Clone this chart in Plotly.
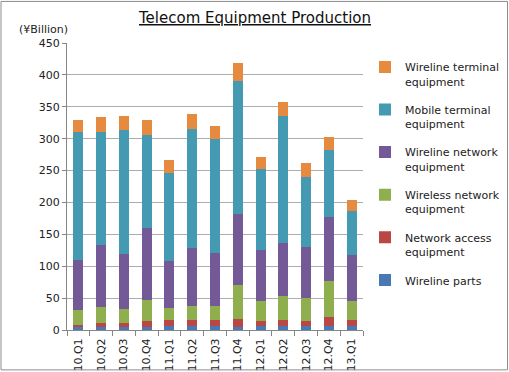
import plotly.graph_objects as go

quarters = ["10.Q1", "10.Q2", "10.Q3", "10.Q4", "11.Q1", "11.Q2", "11.Q3", "11.Q4",
            "12.Q1", "12.Q2", "12.Q3", "12.Q4", "13.Q1"]

wireline_parts = [4.0, 4.4, 4.0, 4.4, 6.0, 6.0, 5.7, 4.4, 6.0, 6.0, 6.0, 6.0, 6.0]
network_access = [4.0, 7.3, 6.6, 10.4, 10.4, 10.4, 10.7, 13.0, 8.8, 10.4, 8.8, 14.8, 10.4]
wireless_network = [23.5, 23.9, 22.4, 32.9, 18.3, 20.8, 20.8, 53.2, 31.2, 37.6, 35.7, 56.7, 29.6]
wireline_network = [78.5, 98.0, 86.5, 112.3, 72.8, 90.7, 83.8, 112.0, 79.5, 81.7, 78.9, 99.8, 71.0]
mobile_terminal = [199.7, 177.0, 194.3, 145.5, 138.5, 187.1, 178.0, 208.4, 126.5, 199.3, 111.0, 105.2, 69.7]
wireline_terminal = [20.3, 23.4, 21.2, 24.5, 20.0, 23.0, 20.5, 28.0, 18.5, 22.0, 21.3, 19.5, 17.3]

series_names = ["Wireline parts", "Network access<br>equipment", "Wireless network<br>equipment",
                "Wireline network<br>equipment", "Mobile terminal<br>equipment",
                "Wireline terminal<br>equipment"]
series_values = [wireline_parts, network_access, wireless_network, wireline_network,
                 mobile_terminal, wireline_terminal]
series_colors = ["#4A78B5", "#B94744", "#8FAE4E", "#735A96", "#4499B3", "#E58A3E"]

y_ticks = [0, 50, 100, 150, 200, 250, 300, 350, 400, 450]

fig = go.Figure()
for i, (name, vals, col) in enumerate(zip(series_names, series_values, series_colors)):
    fig.add_trace(go.Bar(x=quarters, y=vals, name=name, marker=dict(color=col, line=dict(width=0)),
                         legendgroup="g%d" % i, legendrank=1000 - i))

L, R, T, B = 67, 146, 42.7, 41.5
W, H = 509, 372
pw, ph = W - L - R, H - T - B

fig.update_layout(
    width=W, height=H,
    margin=dict(l=L, r=R, t=T, b=B, pad=0, autoexpand=False),
    barmode="stack", bargap=0.56,
    plot_bgcolor="white", paper_bgcolor="white",
    font=dict(family="DejaVu Sans", size=11, color="#222"),
    showlegend=True,
    legend=dict(traceorder="grouped", x=(365 - L) / pw, xanchor="left", y=(330.5 - 53) / ph,
                yanchor="top", font=dict(size=11, color="#222"), valign="top",
                tracegroupgap=11, itemwidth=30, bgcolor="rgba(0,0,0,0)"),
    xaxis=dict(tickangle=-90, showgrid=False, showline=True, linecolor="#868686", linewidth=1,
               ticks="outside", ticklen=5, tickcolor="#868686", tickson="boundaries",
               tickfont=dict(size=11), range=[-0.5, 12.5], ticklabelstandoff=3),
    yaxis=dict(range=[0, 450], tickvals=y_ticks, showgrid=True, gridcolor="#ADADAD", gridwidth=1,
               showline=True, linecolor="#868686", ticks="outside", ticklen=4, tickcolor="#868686",
               tickfont=dict(size=11), zeroline=False),
    annotations=[
        dict(text="<u>Telecom Equipment Production</u>", xref="paper", yref="paper",
             x=(254 - L) / pw, y=(330.5 - 18) / ph, xanchor="center", yanchor="middle",
             showarrow=False, font=dict(size=15, color="#111")),
        dict(text="(¥Billion)", xref="paper", yref="paper", x=(17 - L) / pw, y=(330.5 - 29) / ph,
             xanchor="left", yanchor="middle", showarrow=False, font=dict(size=11, color="#222")),
    ],
    shapes=[dict(type="rect", xref="paper", yref="paper",
                 x0=(1 - L) / pw, x1=(507.5 - L) / pw, y0=(330.5 - 370.5) / ph, y1=(330.5 - 1) / ph,
                 line=dict(color="#8c8c8c", width=1))],
)

fig.write_html("out.html", config={"displayModeBar": False},
               post_script="document.body.style.margin='0';document.body.style.overflow='hidden';")
